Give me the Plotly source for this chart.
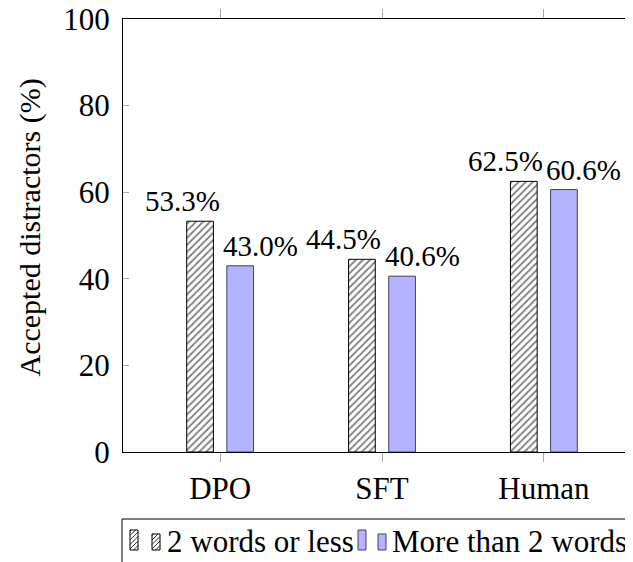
import plotly.graph_objects as go

categories = ["DPO", "SFT", "Human"]
short_vals = [53.3, 44.5, 62.5]
long_vals = [43.0, 40.6, 60.6]
series_names = ["2 words or less", "More than 2 words"]
y_ticks = [0, 20, 40, 60, 80, 100]

FONT = "Liberation Serif"
FS = 31
xs = list(range(len(categories)))
W = 0.165
OFF = 0.124

# plot area in figure pixels
L, R, T, B = 115, 0, 11, 118
FW, FH = 633, 562
PW, PH = FW - L - R, FH - T - B


def px(x):
    return (x - L) / PW


def py(y):
    return (FH - B - y) / PH


fig = go.Figure()
fig.add_trace(go.Bar(
    x=xs, y=short_vals, name=series_names[0], showlegend=False,
    width=W, offset=-OFF - W / 2,
    marker=dict(color="white", line=dict(color="black", width=1),
                pattern=dict(shape="/", fgcolor="black", bgcolor="white",
                             size=5, solidity=0.35)),
))
fig.add_trace(go.Bar(
    x=xs, y=long_vals, name=series_names[1], showlegend=False,
    width=W, offset=OFF - W / 2,
    marker=dict(color="#b3b3ff", line=dict(color="#404060", width=1)),
))

for i, v in enumerate(short_vals):
    fig.add_annotation(x=xs[i] - OFF, y=v, text=f"{v:.1f}%", showarrow=False,
                       xref="x", yref="y", yanchor="bottom", xshift=-18, yshift=2,
                       font=dict(family=FONT, size=FS - 2, color="black"))
for i, v in enumerate(long_vals):
    fig.add_annotation(x=xs[i] + OFF, y=v, text=f"{v:.1f}%", showarrow=False,
                       xref="x", yref="y", yanchor="bottom", xshift=20, yshift=2,
                       font=dict(family=FONT, size=FS - 2, color="black"))

fig.add_annotation(text="Accepted distractors (%)", textangle=-90, showarrow=False,
                   xref="paper", yref="paper", x=0, y=0.5, xanchor="center",
                   yanchor="middle", xshift=-94, yshift=8,
                   font=dict(family=FONT, size=FS - 1, color="black"))

# custom legend (pgfplots style)
shapes = []
shapes.append(dict(type="rect", xref="paper", yref="paper",
                   x0=px(114), x1=px(700), y0=py(511), y1=py(620),
                   line=dict(color="black", width=1), fillcolor="white", layer="above"))
icon_bottom = 542
icons = [(122, 130, 522), (144, 152, 526)]
for x0, x1, top in icons:
    shapes.append(dict(type="rect", xref="paper", yref="paper",
                       x0=px(x0), x1=px(x1), y0=py(icon_bottom), y1=py(top),
                       line=dict(color="black", width=1), fillcolor="white", layer="above"))
    h = icon_bottom - top
    step = 4.5
    k = -8.0
    while k < h:
        xa, ya = x0, icon_bottom - k
        xb, yb = x1, icon_bottom - k - (x1 - x0)
        if ya > icon_bottom:
            xa = x0 + (ya - icon_bottom)
            ya = icon_bottom
        if yb < top:
            xb = xb - (top - yb)
            yb = top
        if xb > xa:
            shapes.append(dict(type="line", xref="paper", yref="paper",
                               x0=px(xa), x1=px(xb), y0=py(ya), y1=py(yb),
                               line=dict(color="black", width=0.8), layer="above"))
        k += step
blue_icons = [(350, 358, 522), (370, 378, 526)]
for x0, x1, top in blue_icons:
    shapes.append(dict(type="rect", xref="paper", yref="paper",
                       x0=px(x0), x1=px(x1), y0=py(icon_bottom), y1=py(top),
                       line=dict(color="#404060", width=1), fillcolor="#b3b3ff", layer="above"))

legend_text_x = [157, 382]
for name, tx in zip(series_names, legend_text_x):
    fig.add_annotation(text=name, showarrow=False, xref="paper", yref="paper",
                       x=px(tx), y=py(533), xanchor="left", yanchor="middle",
                       align="left",
                       font=dict(family=FONT, size=FS, color="black"))

fig.update_layout(
    width=FW, height=FH,
    margin=dict(l=L, r=R, t=T, b=B, autoexpand=False),
    paper_bgcolor="white", plot_bgcolor="white",
    font=dict(family=FONT, size=FS, color="black"),
    barmode="overlay",
    showlegend=False,
    shapes=shapes,
    xaxis=dict(range=[-0.6, 2.6], tickmode="array", tickvals=xs,
               ticktext=categories, showline=True, linecolor="black",
               linewidth=1, mirror="ticks", ticks="outside", ticklen=9,
               tickcolor="#aaaaaa", showgrid=False, zeroline=False,
               tickfont=dict(family=FONT, size=FS, color="black")),
    yaxis=dict(range=[0, 100], tickmode="array", tickvals=y_ticks,
               showline=True, linecolor="black", linewidth=1, mirror="ticks",
               ticks="inside", ticklen=6, tickcolor="#aaaaaa",
               showgrid=False, zeroline=False, ticklabelstandoff=6,
               ticklabeloverflow="allow",
               tickfont=dict(family=FONT, size=FS, color="black")),
)

post = (
    "var st=document.createElement('style');"
    "st.textContent='.js-plotly-plot svg text{font-family:\"Liberation Serif\",\"Times New Roman\",serif !important;}';"
    "document.head.appendChild(st);"
)

fig.write_html("out.html", post_script=post)
